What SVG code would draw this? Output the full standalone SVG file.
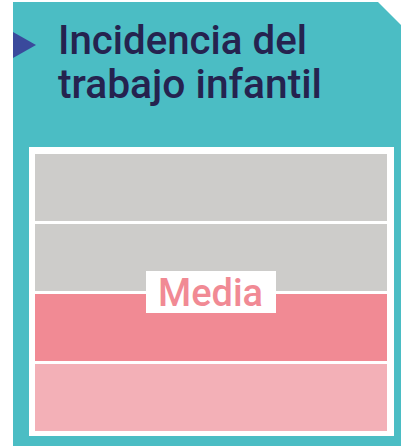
<svg xmlns="http://www.w3.org/2000/svg" width="401" height="446" viewBox="0 0 401 446">
<style>
.title{font-family:Roboto,"Liberation Sans",Arial,sans-serif;font-weight:500;font-size:41px;fill:#25234f}
.lbl{font-family:Roboto,"Liberation Sans",Arial,sans-serif;font-weight:500;font-size:39px;fill:#f18a94}
</style>
<rect width="401" height="446" fill="#ffffff"/>
<g id="panel">
<polygon points="13,2 378,2 401,25 401,446 13,446" fill="#4bbdc4"/>
<polygon points="13,32 36,45 13,58" fill="#3a4a9c"/>
<text class="title" x="58" y="54" textLength="249" lengthAdjust="spacingAndGlyphs">Incidencia del</text>
<text class="title" x="58" y="98" textLength="264" lengthAdjust="spacingAndGlyphs">trabajo infantil</text>
</g>
<g id="chart">
<rect x="29" y="147" width="365" height="289" fill="#ffffff"/>
<rect x="35" y="154" width="352" height="67" fill="#cdccca"/>
<rect x="35" y="224" width="352" height="67" fill="#cdccca"/>
<rect x="35" y="294" width="352" height="67" fill="#f18a94"/>
<rect x="35" y="364" width="352" height="67" fill="#f3b0b7"/>
</g>
<g id="media">
<rect x="146" y="271" width="130" height="42" fill="#ffffff"/>
<text class="lbl" x="158" y="305.5" textLength="105" lengthAdjust="spacingAndGlyphs">Media</text>
</g>
</svg>
